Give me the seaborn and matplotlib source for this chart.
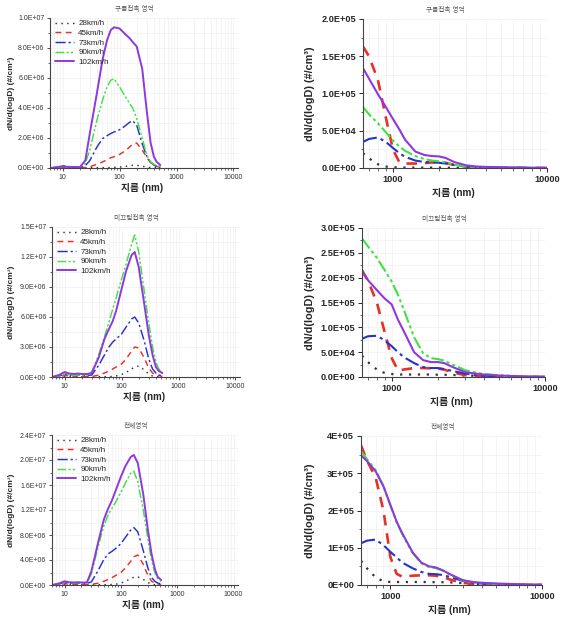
import matplotlib
matplotlib.use("Agg")
import matplotlib.pyplot as plt
import matplotlib.ticker as mticker
import pandas as pd
import seaborn as sns

sns.set_style("white")
plt.rcParams['font.family'] = ['Liberation Sans', 'Noto Sans CJK KR', 'DejaVu Sans']
plt.rcParams['axes.unicode_minus'] = False

SPEEDS = ['28km/h', '45km/h', '73km/h', '90km/h', '102km/h']
COLORS = ['#333333', '#e8302a', '#2434c8', '#3fe23f', '#8e38e0']
STYLES = [(0, (1, 3)), (0, (4, 3)), (0, (7, 2, 1.5, 2)),
          (0, (6, 1.5, 1.5, 1.5, 1.5, 1.5)), '-']

# particle diameter (nm)
small_d = [6, 8, 10, 12, 15, 17, 20, 25, 30, 40, 50, 60, 70, 80, 100,
           120, 150, 170, 200, 250, 300, 350, 400, 450, 520]
large_d = [640, 700, 800, 900, 1000, 1100, 1200, 1400, 1600, 1800, 2000,
           2200, 2500, 3000, 3500, 4000, 5000, 6000, 8000, 10000]

# 구름접촉 영역, small particles (x1E6 #/cm3)
roll_s_28 = [0.0, 0.01, 0.03, 0.02, 0.02, 0.02, 0.02, 0.02, 0.02, 0.02, 0.02, 0.03, 0.03,
             0.04, 0.06, 0.1, 0.15, 0.18, 0.18, 0.12, 0.06, 0.03, 0.02, 0.01, 0.0]
roll_s_45 = [0.0, 0.02, 0.06, 0.04, 0.03, 0.03, 0.03, 0.03, 0.08, 0.25, 0.4, 0.55, 0.68,
             0.75, 0.9, 1.1, 1.4, 1.6, 1.66, 1.2, 0.7, 0.35, 0.2, 0.1, 0.05]
roll_s_73 = [0.0, 0.05, 0.15, 0.1, 0.07, 0.06, 0.05, 0.15, 0.5, 1.4, 1.95, 2.15, 2.3,
             2.4, 2.55, 2.75, 3.05, 3.15, 2.85, 1.6, 0.8, 0.4, 0.2, 0.1, 0.05]
roll_s_90 = [0.0, 0.04, 0.1, 0.07, 0.05, 0.05, 0.05, 0.3, 1.2, 3.2, 4.5, 5.4, 5.85,
             5.95, 5.4, 4.9, 4.3, 4.0, 3.3, 2.0, 0.85, 0.4, 0.25, 0.15, 0.1]
roll_s_102 = [0.0, 0.05, 0.12, 0.08, 0.06, 0.07, 0.05, 0.5, 2.3, 5.0, 7.2, 8.5, 9.2,
              9.38, 9.3, 9.0, 8.65, 8.4, 8.1, 6.6, 3.8, 1.7, 0.75, 0.4, 0.2]

# 구름접촉 영역, large particles (x1E4 #/cm3)
roll_l_28 = [2.0, 1.3, 0.5, 0.2, 0.1, 0.08, 0.06, 0.05, 0.05, 0.05, 0.05, 0.05, 0.04,
             0.03, 0.02, 0.02, 0.01, 0.01, 0.0, 0.0]
roll_l_45 = [16.3, 15.0, 11.8, 6.8, 2.5, 0.8, 0.6, 0.6, 0.65, 0.75, 0.8, 0.7, 0.4,
             0.2, 0.1, 0.06, 0.03, 0.02, 0.01, 0.0]
roll_l_73 = [3.5, 3.9, 4.1, 3.5, 2.7, 2.0, 1.5, 1.0, 0.8, 0.75, 0.7, 0.6, 0.4,
             0.2, 0.1, 0.07, 0.04, 0.03, 0.01, 0.0]
roll_l_90 = [8.2, 7.2, 6.0, 4.8, 3.7, 2.9, 2.3, 1.6, 1.2, 1.0, 0.9, 0.75, 0.45,
             0.2, 0.1, 0.07, 0.04, 0.03, 0.01, 0.0]
roll_l_102 = [13.4, 12.0, 9.9, 8.2, 6.6, 5.2, 3.8, 2.2, 1.75, 1.6, 1.55, 1.35, 0.8,
              0.35, 0.2, 0.15, 0.1, 0.07, 0.03, 0.02]

# 미끄럼접촉 영역, small particles (x1E6 #/cm3)
slip_s_28 = [0.0, 0.02, 0.05, 0.03, 0.03, 0.03, 0.02, 0.02, 0.02, 0.03, 0.03, 0.04, 0.05,
             0.1, 0.25, 0.45, 0.8, 1.0, 1.1, 0.7, 0.3, 0.1, 0.05, 0.02, 0.0]
slip_s_45 = [0.0, 0.05, 0.15, 0.1, 0.08, 0.1, 0.08, 0.05, 0.05, 0.2, 0.4, 0.6, 0.8,
             1.0, 1.3, 1.8, 2.6, 3.0, 2.9, 1.9, 0.9, 0.4, 0.2, 0.15, 0.05]
slip_s_73 = [0.0, 0.1, 0.3, 0.2, 0.15, 0.2, 0.15, 0.15, 0.2, 1.2, 2.2, 3.0, 3.5,
             3.8, 4.3, 5.0, 5.8, 6.0, 5.4, 3.6, 1.8, 0.8, 0.4, 0.2, 0.1]
slip_s_90 = [0.0, 0.1, 0.3, 0.2, 0.15, 0.2, 0.15, 0.2, 0.5, 2.3, 4.0, 5.5, 6.8,
             7.9, 9.8, 11.3, 13.3, 14.2, 12.5, 8.6, 5.4, 3.0, 1.5, 0.8, 0.35]
slip_s_102 = [0.0, 0.2, 0.5, 0.35, 0.3, 0.35, 0.3, 0.3, 0.4, 2.0, 3.8, 4.8, 5.6,
              6.6, 8.8, 10.6, 12.2, 12.5, 11.0, 7.3, 4.2, 2.2, 1.0, 0.6, 0.4]

# 미끄럼접촉 영역, large particles (x1E4 #/cm3)
slip_l_28 = [4.3, 3.0, 1.5, 0.8, 0.6, 0.5, 0.5, 0.5, 0.5, 0.5, 0.45, 0.45, 0.4,
             0.3, 0.25, 0.2, 0.1, 0.06, 0.02, 0.01]
slip_l_45 = [21.5, 19.4, 15.0, 9.0, 3.8, 1.3, 1.5, 1.8, 1.8, 1.75, 1.7, 1.5, 0.9,
             0.4, 0.2, 0.1, 0.05, 0.03, 0.01, 0.0]
slip_l_73 = [7.7, 8.2, 8.3, 7.4, 6.2, 5.0, 4.0, 2.8, 2.0, 1.8, 1.8, 1.6, 1.2,
             0.7, 0.4, 0.25, 0.15, 0.1, 0.04, 0.02]
slip_l_90 = [27.9, 26.3, 24.0, 21.5, 19.2, 16.5, 13.5, 8.0, 4.8, 3.8, 3.6, 3.3, 2.5,
             1.4, 0.9, 0.6, 0.35, 0.25, 0.1, 0.05]
slip_l_102 = [21.2, 19.5, 17.5, 15.8, 14.6, 11.5, 9.2, 5.0, 3.4, 3.0, 3.0, 2.8, 2.0,
              1.0, 0.7, 0.5, 0.3, 0.2, 0.08, 0.04]

# 전체영역, small particles (x1E6 #/cm3)
all_s_28 = [0.0, 0.03, 0.08, 0.05, 0.05, 0.05, 0.04, 0.03, 0.03, 0.04, 0.05, 0.06, 0.08,
            0.1, 0.3, 0.6, 1.0, 1.25, 1.3, 0.9, 0.4, 0.15, 0.05, 0.02, 0.0]
all_s_45 = [0.0, 0.08, 0.2, 0.12, 0.1, 0.12, 0.1, 0.08, 0.1, 0.3, 0.6, 0.9, 1.2,
            1.5, 2.0, 2.7, 3.8, 4.5, 4.8, 3.3, 1.6, 0.6, 0.3, 0.15, 0.1]
all_s_73 = [0.0, 0.15, 0.4, 0.3, 0.25, 0.3, 0.25, 0.25, 0.5, 2.4, 4.1, 5.0, 5.4,
            5.8, 6.6, 7.6, 8.8, 9.2, 8.5, 5.5, 2.8, 1.2, 0.6, 0.3, 0.2]
all_s_90 = [0.0, 0.15, 0.45, 0.35, 0.3, 0.35, 0.3, 0.3, 1.8, 6.3, 9.5, 11.3, 12.3,
            13.2, 14.8, 16.3, 17.9, 18.2, 16.5, 12.0, 7.5, 4.0, 2.0, 1.0, 0.6]
all_s_102 = [0.0, 0.25, 0.6, 0.45, 0.4, 0.45, 0.4, 0.4, 2.2, 7.0, 10.5, 12.3, 13.6,
             15.0, 17.3, 19.0, 20.5, 20.8, 19.5, 14.5, 9.0, 5.0, 2.6, 1.3, 0.8]

# 전체영역, large particles (x1E4 #/cm3)
all_l_28 = [6.5, 4.5, 2.0, 1.0, 0.8, 0.8, 0.8, 0.8, 0.8, 0.8, 0.75, 0.75, 0.7,
            0.5, 0.3, 0.2, 0.1, 0.05, 0.02, 0.01]
all_l_45 = [37.5, 33.5, 28.8, 20.0, 7.5, 3.0, 2.2, 2.5, 2.6, 2.6, 2.5, 2.2, 1.4,
            0.6, 0.3, 0.2, 0.1, 0.05, 0.02, 0.01]
all_l_73 = [11.2, 11.9, 12.2, 10.7, 8.9, 7.4, 6.0, 4.5, 3.5, 3.0, 2.9, 2.7, 2.1,
            1.1, 0.6, 0.4, 0.2, 0.1, 0.05, 0.02]
all_l_90 = [36.0, 33.8, 30.8, 26.5, 21.3, 16.8, 13.6, 8.6, 5.8, 4.8, 4.5, 3.9, 2.7,
            1.2, 0.7, 0.5, 0.3, 0.2, 0.1, 0.05]
all_l_102 = [34.8, 33.3, 30.5, 26.5, 21.5, 17.0, 13.8, 8.8, 6.0, 5.0, 4.7, 4.0, 2.8,
             1.3, 0.8, 0.6, 0.4, 0.3, 0.15, 0.08]

TITLES = ['구름접촉 영역', '미끄럼접촉 영역', '전체영역']
YLABEL = 'dN/d(logD) (#/cm³)'
XLABEL = '지름 (nm)'

W, H = 570, 624


def rect(l, t, r, b):
    return [l / W, 1 - b / H, (r - l) / W, (b - t) / H]


def draw_panel(fig, box, d, series, scale, ymax, ystep, fmt, title, small):
    l, t, r, b = box
    ax = fig.add_axes(rect(l, t, r, b))
    rows = []
    for name, vals in zip(SPEEDS, series):
        for x, v in zip(d, vals):
            rows.append({'d': x, 'n': v * scale, 'speed': name})
    df = pd.DataFrame(rows)
    for i, name in enumerate(SPEEDS):
        sub = df[df['speed'] == name]
        if small:
            lw = 1.4 if i == 4 else 1.05
        else:
            lw = [1.6, 1.9, 1.5, 1.5, 1.5][i]
        sns.lineplot(data=sub, x='d', y='n', ax=ax, color=COLORS[i], linestyle=STYLES[i],
                     linewidth=lw, label=name, sort=False, estimator=None)

    ax.set_xscale('log')
    if small:
        ax.set_xlim(6, 12000)
        ax.set_xticks([10, 100, 1000, 10000])
    else:
        ax.set_xlim(640, 10000)
        ax.set_xticks([1000, 10000])
    ax.xaxis.set_major_formatter(mticker.FuncFormatter(lambda v, p: f'{v:g}'))
    ax.set_ylim(0, ymax)
    ax.yaxis.set_major_locator(mticker.MultipleLocator(ystep))
    ax.yaxis.set_minor_locator(mticker.MultipleLocator(ystep / 2))
    ax.yaxis.set_major_formatter(mticker.FuncFormatter(lambda v, p: format(v, fmt)))

    ax.grid(which='both', color='#f0f0f0', linewidth=0.5)
    for side in ['top', 'right']:
        ax.spines[side].set_visible(False)
    for side in ['left', 'bottom']:
        ax.spines[side].set_color('#444444')
        ax.spines[side].set_linewidth(0.8)

    if small:
        ax.tick_params(axis='both', which='major', labelsize=5.0, length=2.5, width=0.6,
                       pad=1.5, direction='out', left=True, bottom=True, colors='#333333')
        ax.tick_params(axis='both', which='minor', length=1.5, width=0.5,
                       direction='out', left=True, bottom=True, colors='#333333')
        lab_fs = 6.0
        xl_fs = 7.0
    else:
        ax.tick_params(axis='both', which='major', labelsize=6.6, length=3, width=0.7,
                       pad=2, direction='out', left=True, bottom=True)
        ax.tick_params(axis='both', which='minor', length=1.8, width=0.5,
                       direction='out', left=True, bottom=True)
        for lab in ax.get_xticklabels() + ax.get_yticklabels():
            lab.set_fontweight('bold')
        lab_fs = 7.8
        xl_fs = 7.2

    w, h = r - l, b - t
    ax.set_xlabel('')
    ax.set_ylabel('')
    yl_x = 12 if small else 310
    xl_y = (b + 20) if small else (b + 25)
    ax.text(-(l - yl_x) / w, 0.5, YLABEL, transform=ax.transAxes, rotation=90,
            ha='center', va='center', fontsize=lab_fs, fontweight='bold')
    ax.text(0.49, -(xl_y - b) / h, XLABEL, transform=ax.transAxes,
            ha='center', va='center', fontsize=xl_fs, fontweight='bold')
    ax.text(0.45, 1 + 8.5 / h, title, transform=ax.transAxes, ha='center',
            va='center', fontsize=4.8, color='#555555')

    if small:
        ax.legend(loc='upper left', bbox_to_anchor=(0.0, 1.02), frameon=False,
                  fontsize=5.8, handlelength=2.4, handletextpad=0.5,
                  labelspacing=0.25, borderaxespad=0.2)
    else:
        leg = ax.get_legend()
        if leg is not None:
            leg.remove()
    return ax


fig = plt.figure(figsize=(W / 100, H / 100), dpi=100)

draw_panel(fig, (50, 18, 238, 168), small_d,
           [roll_s_28, roll_s_45, roll_s_73, roll_s_90, roll_s_102],
           1e6, 1.0e7, 2e6, '.1E', TITLES[0], True)
draw_panel(fig, (363, 19, 547, 168), large_d,
           [roll_l_28, roll_l_45, roll_l_73, roll_l_90, roll_l_102],
           1e4, 2.0e5, 5e4, '.1E', TITLES[0], False)
draw_panel(fig, (52, 227, 240, 377), small_d,
           [slip_s_28, slip_s_45, slip_s_73, slip_s_90, slip_s_102],
           1e6, 1.5e7, 3e6, '.1E', TITLES[1], True)
draw_panel(fig, (362, 228, 545, 377), large_d,
           [slip_l_28, slip_l_45, slip_l_73, slip_l_90, slip_l_102],
           1e4, 3.0e5, 5e4, '.1E', TITLES[1], False)
draw_panel(fig, (52, 435, 238, 585), small_d,
           [all_s_28, all_s_45, all_s_73, all_s_90, all_s_102],
           1e6, 2.4e7, 4e6, '.1E', TITLES[2], True)
draw_panel(fig, (361, 436, 542, 585), large_d,
           [all_l_28, all_l_45, all_l_73, all_l_90, all_l_102],
           1e4, 4.0e5, 1e5, '.0E', TITLES[2], False)

fig.savefig('out.png', dpi=100)
